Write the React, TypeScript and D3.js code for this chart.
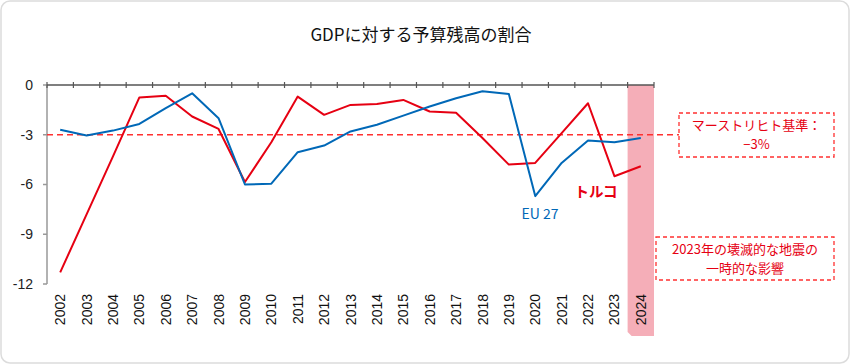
import React from 'react';
import * as d3 from 'd3';

const width = 850;
const height = 364;

// data
const years = [
  '2002', '2003', '2004', '2005', '2006', '2007', '2008', '2009', '2010', '2011', '2012',
  '2013', '2014', '2015', '2016', '2017', '2018', '2019', '2020', '2021', '2022', '2023', '2024'
];
const eu27 = [
  -2.7, -3.05, -2.75, -2.35, -1.4, -0.5, -2.0, -6.0, -5.95, -4.05, -3.65,
  -2.8, -2.4, -1.85, -1.3, -0.8, -0.38, -0.54, -6.7, -4.7, -3.35, -3.45, -3.2
];
const turkey = [
  -11.3, -7.8, -4.3, -0.75, -0.65, -1.9, -2.65, -5.85, -3.45, -0.7, -1.8,
  -1.2, -1.15, -0.9, -1.6, -1.67, -3.2, -4.8, -4.7, -2.9, -1.1, -5.5, -4.9
];
const yTicks = [0, -3, -6, -9, -12];
const maastricht = -3;
const highlightYear = '2024';

const RED = '#e60012';
const BLUE = '#0068b7';
const margin = { top: 85, left: 47, right: 196, bottom: 80 };

const App = () => {
  const x = d3.scaleBand()
    .domain(years)
    .range([margin.left, width - margin.right]);

  const y = d3.scaleLinear()
    .domain([-12, 0])
    .range([height - margin.bottom, margin.top]);

  const cx = (d: string) => (x(d) as number) + x.bandwidth() / 2;

  const line = d3.line<number>()
    .x((_, i) => cx(years[i]))
    .y(d => y(d));

  const bx = x(highlightYear) as number;
  const bw = x.bandwidth();
  const bandBottom = 336;
  const r = 4;
  const bandPath = `M${bx},${y(0)} H${bx + bw} V${bandBottom} H${bx + r} L${bx},${bandBottom - r} Z`;

  const xEnd = width - margin.right;
  const tickX = years.map(d => x(d) as number).concat([xEnd]);

  const jp = '"Noto Sans CJK JP", "Noto Sans", sans-serif';
  const num = '"Liberation Sans", Arial, sans-serif';

  return (
    <svg width={width} height={height} style={{ position: 'absolute', left: 0, top: 0, background: '#fff' }}>
      <rect x={1} y={1} width={width - 2} height={height - 2} rx={9} fill="#fff" stroke="#dcdcdc" strokeWidth={1.5} />

      <text x={421} y={41} textAnchor="middle" fontFamily={jp} fontSize={17} fill="#111">
        GDPに対する予算残高の割合
      </text>

      {/* 2024 highlight */}
      <path d={bandPath} fill="#f5aeb8" />

      {/* y axis */}
      <line x1={margin.left} x2={margin.left} y1={y(0)} y2={y(-12)} stroke="#999" strokeWidth={1.5} />
      {yTicks.map(t => (
        <g key={t}>
          <line x1={margin.left - 4} x2={margin.left} y1={y(t)} y2={y(t)} stroke="#999" strokeWidth={1.5} />
          <text x={33} y={y(t)} dy="0.35em" textAnchor="end" fontFamily={num} fontSize={14} fill="#222">
            {t}
          </text>
        </g>
      ))}

      {/* x axis at zero */}
      <line x1={margin.left} x2={xEnd} y1={y(0)} y2={y(0)} stroke="#555" strokeWidth={1.5} />
      {tickX.map((t, i) => (
        <line key={i} x1={t} x2={t} y1={y(0) - 3} y2={y(0) + 3} stroke="#555" strokeWidth={1.2} />
      ))}
      {years.map(d => (
        <text
          key={d}
          transform={`translate(${cx(d)}, 294) rotate(-90)`}
          textAnchor="end"
          dy="0.36em"
          fontFamily={num}
          fontSize={14}
          fill="#111"
        >
          {d}
        </text>
      ))}

      {/* Maastricht reference */}
      <line x1={margin.left} x2={679} y1={y(maastricht)} y2={y(maastricht)} stroke="#ff3030" strokeWidth={1.5} strokeDasharray="6,4" />

      <path d={line(turkey) as string} fill="none" stroke={RED} strokeWidth={2} strokeLinejoin="round" />
      <path d={line(eu27) as string} fill="none" stroke={BLUE} strokeWidth={2} strokeLinejoin="round" />

      <text x={596} y={192} dy="0.35em" textAnchor="middle" fontFamily={jp} fontWeight="bold" fontSize={14.5} fill={RED}>
        トルコ
      </text>
      <text x={540} y={214} dy="0.35em" textAnchor="middle" fontFamily={jp} fontSize={14} fill={BLUE}>
        EU 27
      </text>

      {/* annotations */}
      <rect x={679} y={113} width={155} height={44} fill="#fff" stroke="#ff3030" strokeWidth={1.3} strokeDasharray="4,3" />
      <text x={756.5} y={125.5} dy="0.35em" textAnchor="middle" fontFamily={jp} fontSize={13} fill={RED}>
        マーストリヒト基準：
      </text>
      <text x={756.5} y={144.5} dy="0.35em" textAnchor="middle" fontFamily={jp} fontSize={13} fill={RED}>
        −3%
      </text>

      <rect x={656} y={237} width={178} height={43} fill="#fff" stroke="#ff3030" strokeWidth={1.3} strokeDasharray="4,3" />
      <text x={745} y={249} dy="0.35em" textAnchor="middle" fontFamily={jp} fontSize={13} fill={RED}>
        2023年の壊滅的な地震の
      </text>
      <text x={745} y={268} dy="0.35em" textAnchor="middle" fontFamily={jp} fontSize={13} fill={RED}>
        一時的な影響
      </text>
    </svg>
  );
};

export default App;
